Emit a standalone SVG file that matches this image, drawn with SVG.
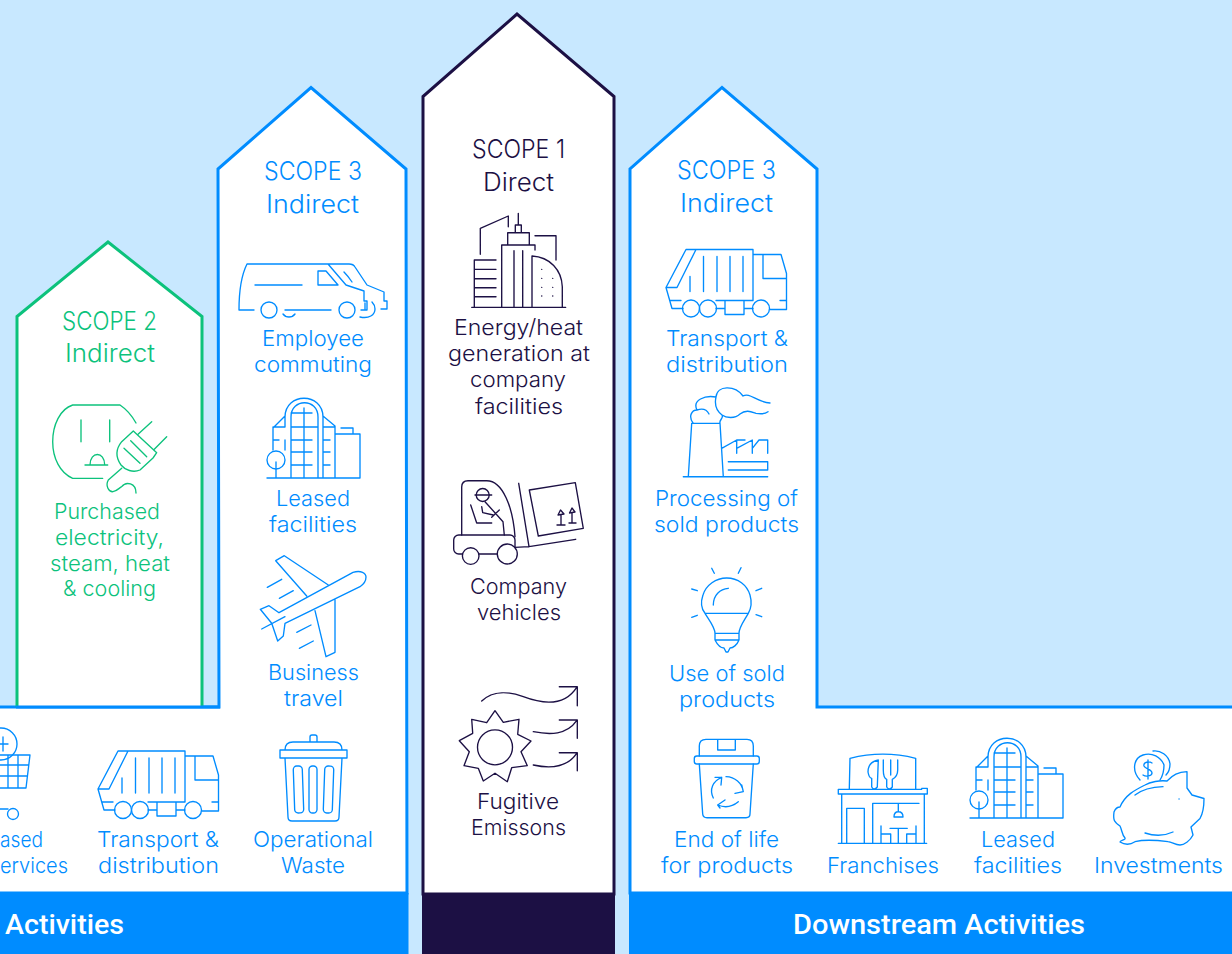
<svg xmlns="http://www.w3.org/2000/svg" width="1232" height="954" viewBox="0 0 1232 954">
<style>
.t{font-family:"Inter","Liberation Sans",sans-serif;font-size:22px;font-weight:300;text-anchor:middle}
.h{font-size:25px}
.bar{font-family:"Roboto","Liberation Sans",sans-serif;font-size:28px;font-weight:500;fill:#fff}
.blue{fill:#008cff}.green{fill:#0cc27c}.navy{fill:#1c1044}
.i{fill:none;stroke-width:1.35;stroke-linecap:round;stroke-linejoin:round}
.ib{stroke:#008cff}.ig{stroke:#0cc27c}.in{stroke:#1c1044}
</style>
<defs>
<g id="truck">
<path d="M98,789L118,751H185V802M98,789H109L128,751M98,789L104,810H115M102,802H113M122,778V793M135.500,758V793M149,758V793M162,758V793M175,758V793M157,802H176V816H157ZM148,810H157M176,810H185M148,802H157M176,802H185M185,756H213L218.500,775V811H202M195,756V780H218M212,802H218"/>
<circle cx="123" cy="810" r="8.500"/><circle cx="140" cy="810" r="8.500"/><circle cx="193" cy="810" r="8.500"/>
</g>
<g id="building">
<path d="M267,478H360M285,427V417C285,392 323,392 323,417V478M291,478V417C291,398 318,398 318,417V478M304,408V478M291,413H312M291,427H318M291,440H312M291,452H312M291,465H312M273,428L285,416M273,427V450M273,427H285M273,440H279M285,440V450M323,416L335,426V478M323,427H335M323,440H330M323,452H330M323,465H330M336,434H360V478M341,428H353V434M276,462V478"/>
<circle cx="276" cy="460" r="9"/>
</g>
</defs>
<rect width="1232" height="954" fill="#c8e8ff"/>
<g id="scope3-upstream">
<path d="M-3,707H219L218,169L311,87.500L406,169L407,893H-3Z" fill="#fff" stroke="#008cff" stroke-width="3"/>
<rect x="0" y="893" width="408.500" height="61" fill="#008cff"/>
<text class="bar" x="5" y="934" textLength="119" lengthAdjust="spacingAndGlyphs">Activities</text>
<text class="t h blue" x="313" y="180" textLength="98" lengthAdjust="spacingAndGlyphs">SCOPE 3</text>
<text class="t h blue" x="312.500" y="213" textLength="93" lengthAdjust="spacingAndGlyphs">Indirect</text>
</g>
<g id="scope2">
<path d="M17,707V316.500L108,242L202,316.500V707" fill="#fff" stroke="#0cc27c" stroke-width="3"/>
<text class="t h green" x="109.500" y="330" textLength="95" lengthAdjust="spacingAndGlyphs">SCOPE 2</text>
<text class="t h green" x="110" y="362" textLength="90" lengthAdjust="spacingAndGlyphs">Indirect</text>
</g>
<path d="M16,707H220" fill="none" stroke="#008cff" stroke-width="3"/>
<g id="purchased-electricity">
<g class="i ig">
<path d="M136,423C131,414 126,409 120,405H72.700C60,409 52.700,425 52.700,441.700C52.700,458 60,473 72.700,478.300H102.700M81,420V441.700M109.700,420V441.700M90,465C90,451 104.700,451 104.700,465M85,465H107.700"/>
<path d="M133.300,431L156.700,452.700L153,458L140,470C133,473 125,470 121,465C116,458 115,450 121.700,441.700ZM138.300,434L151.700,421.700M154.300,449.300L166.700,436.700M130.700,440.700L146.700,456.700M124,448.300L140,463.300M121.700,468.300L108.300,480C105,486 109,492 113,491.700C117,491 119,488 121.700,486.700C126,481 136,483 136,493"/>
</g>
<text class="t green" x="107" y="519" textLength="106" lengthAdjust="spacingAndGlyphs">Purchased</text>
<text class="t green" x="109.500" y="545" textLength="109" lengthAdjust="spacingAndGlyphs">electricity,</text>
<text class="t green" x="110" y="571" textLength="120" lengthAdjust="spacingAndGlyphs">steam, heat</text>
<text class="t green" x="109.500" y="596" textLength="93" lengthAdjust="spacingAndGlyphs">&amp; cooling</text>
</g>
<g id="employee-commuting">
<g class="i ib">
<path d="M254,310H239C239,290 241,276 247,264H328L346,285L364,291V301H367V310H361M285,310H331M328,264H349C352,264 354,265 355,267L367,285L384,292V301H387V309H381M318,271H326L338,285H318ZM255,285H302M344,272C347,275 350,279 352,282M283,314C286,318 292,318 295,314M360,317C369,319 375,315 375,309C375,306 374,304 372,302M365,303V309"/>
<circle cx="269" cy="310" r="8"/><circle cx="347" cy="310" r="8"/>
</g>
<text class="t blue" x="313" y="346" textLength="102" lengthAdjust="spacingAndGlyphs">Employee</text>
<text class="t blue" x="313" y="372" textLength="118" lengthAdjust="spacingAndGlyphs">commuting</text>
</g>
<g id="leased-facilities-up">
<use href="#building" class="i ib"/>
<text class="t blue" x="313" y="506" textLength="74" lengthAdjust="spacingAndGlyphs">Leased</text>
<text class="t blue" x="313" y="532" textLength="88" lengthAdjust="spacingAndGlyphs">facilities</text>
</g>
<g id="business-travel">
<path class="i ib" d="M260.300,609.300L269,605.700L279,612.700L353,572.300C361,570 366,573 366,577C366,581 364,584 360,586.700L285,623.300L283.300,636L277.700,641L271.700,623.300ZM306.700,596L275.700,560.700L284.300,555.700L328.300,585M315,610.700L326,656.700L335,652.300V600M261.700,629L285,616.700M267.300,587.300L281.700,579.300M279.300,598.300L293.300,590.700M296.700,632.300L311,625M299.300,648.300L313.300,641"/>
<text class="t blue" x="313.500" y="680" textLength="91" lengthAdjust="spacingAndGlyphs">Business</text>
<text class="t blue" x="313.500" y="706" textLength="59" lengthAdjust="spacingAndGlyphs">travel</text>
</g>
<g id="operational-waste">
<g class="i ib">
<path d="M310,742V737Q310,735 312,735H315Q317,735 317,737V742M285,750Q285,742 293,742H334Q342,742 342,750M280,750H347V758H280ZM285,758L288,817Q288,821 292,821H335Q339,821 339,817L342,758"/>
<rect x="294" y="766" width="9" height="47" rx="3.500" transform="rotate(-2 298 790)"/>
<rect x="309" y="766" width="8" height="47" rx="3.500"/>
<rect x="324" y="766" width="9" height="47" rx="3.500" transform="rotate(2 328 790)"/>
</g>
<text class="t blue" x="313" y="847" textLength="120" lengthAdjust="spacingAndGlyphs">Operational</text>
<text class="t blue" x="313" y="873" textLength="64" lengthAdjust="spacingAndGlyphs">Waste</text>
</g>
<g id="transport-up">
<use href="#truck" class="i ib"/>
<text class="t blue" x="158" y="847" textLength="122" lengthAdjust="spacingAndGlyphs">Transport &amp;</text>
<text class="t blue" x="158.500" y="873" textLength="121" lengthAdjust="spacingAndGlyphs">distribution</text>
</g>
<g id="purchased-services">
<g class="i ib">
<circle cx="1" cy="744" r="16"/>
<path d="M-2,744H8M3,737V751M0,755H30L26,788H0M8,755V788M18,755V788M0,765H28M0,776H27M0,809H8"/>
<circle cx="13" cy="814" r="5.500"/>
</g>
<text class="t blue" x="21.500" y="847" textLength="43" lengthAdjust="spacingAndGlyphs">ased</text>
<text class="t blue" x="34" y="873" textLength="68" lengthAdjust="spacingAndGlyphs">ervices</text>
</g>
<g id="scope1">
<path d="M423,894V96.500L517,14L614,96.500V894Z" fill="#fff" stroke="#1c1044" stroke-width="3"/>
<rect x="422" y="894" width="193" height="60" fill="#1c1044"/>
<text class="t h navy" x="518.500" y="158" textLength="93" lengthAdjust="spacingAndGlyphs">SCOPE 1</text>
<text class="t h navy" x="518.500" y="191" textLength="71" lengthAdjust="spacingAndGlyphs">Direct</text>
</g>
<g id="energy-generation">
<path class="i in" d="M471.700,307.300H565.700M474.300,307.300V260H496M474.300,269.300H496M474.300,278.700H496M474.300,287.700H496M474.300,296.700H496M480.300,254.300V228.300L508.300,216V226.700M501.700,307.300V245H535V250M514,250.700V307.300M522.700,250.700V307.300M507.700,245V232.700H529.300V245M515.300,232.700V225H521.300V232.700M518.300,225V213.300M535,235.700H556V260M532,307.300V256C550,257 561.700,270 562.300,286.700V307.300M541.700,269.300h.1M541.700,278.300h.1M552.700,278.300h.1M541.700,287.300h.1M552.700,287.300h.1M541.700,296h.1M552.700,296h.1"/>
<text class="t navy" x="518.500" y="335" textLength="129" lengthAdjust="spacingAndGlyphs">Energy/heat</text>
<text class="t navy" x="519" y="361" textLength="142" lengthAdjust="spacingAndGlyphs">generation at</text>
<text class="t navy" x="518" y="387" textLength="96" lengthAdjust="spacingAndGlyphs">company</text>
<text class="t navy" x="519" y="413.500" textLength="88" lengthAdjust="spacingAndGlyphs">facilities</text>
</g>
<g id="company-vehicles">
<g class="i in">
<path d="M461.700,535V487Q461.700,480.700 468,480.700H486.700C503,480.700 513,508 515,536.700"/>
<rect x="453.700" y="535" width="61.300" height="19" rx="5"/>
<circle cx="470.700" cy="556" r="8.300" fill="#fff"/><circle cx="507.300" cy="554" r="10" fill="#fff"/>
<circle cx="482.700" cy="495" r="6.500"/>
<path d="M475,495H491.700M470.700,505L476.700,523H491.700M481.700,506.700L482.700,512.700L493.300,515M485,501.700L503,521.700L504.300,535M491.700,517.300L499.300,510M518.700,483.300L529,546.700L575.700,539.300M515,547.300L529,546.700M529.300,490L575.300,482.700L583.300,528.300L538.300,536ZM561,525V515M558,515L560.500,510L564,514ZM557,525H565M572,523V513M569.500,513L572,508L575,512ZM569,523H576"/>
</g>
<text class="t navy" x="518.500" y="594" textLength="97" lengthAdjust="spacingAndGlyphs">Company</text>
<text class="t navy" x="519" y="620" textLength="84" lengthAdjust="spacingAndGlyphs">vehicles</text>
</g>
<g id="fugitive-emissions">
<g class="i in">
<polygon points="495,710.700 503.300,722.300 519,719.300 517.700,734.300 531,741 521,751.700 527.300,765.700 511.700,767.700 507.300,781.700 495,773.300 483.300,781 478.300,768.300 464,765.700 469.300,751.700 459.300,740.700 472.700,733.300 471.700,719.300 486.700,722.700"/>
<circle cx="495" cy="747.300" r="17.500"/>
<path d="M481.700,701C493.300,690 510,691.700 523.300,696.700C540,703 563.300,708.300 576.700,687.300M559.300,686.700H577.300V705.700M533.300,731.700C550,735 566.700,735 576.700,720.700M559.300,720H577.300V738.300M533.300,765C550,768.700 566.700,768 576.700,753.300M559.300,752.700H577.300V770.700"/>
</g>
<text class="t navy" x="518" y="809" textLength="82" lengthAdjust="spacingAndGlyphs">Fugitive</text>
<text class="t navy" x="518.500" y="835" textLength="95" lengthAdjust="spacingAndGlyphs">Emissons</text>
</g>
<g id="scope3-downstream">
<path d="M630,893V169L722,87.500L817,169V707H1235V893Z" fill="#fff" stroke="#008cff" stroke-width="3"/>
<rect x="629" y="893" width="603" height="61" fill="#008cff"/>
<text class="bar" x="793" y="934" textLength="292" lengthAdjust="spacingAndGlyphs">Downstream Activities</text>
<text class="t h blue" x="726.500" y="179" textLength="99" lengthAdjust="spacingAndGlyphs">SCOPE 3</text>
<text class="t h blue" x="726.500" y="212" textLength="93" lengthAdjust="spacingAndGlyphs">Indirect</text>
</g>
<g id="transport-down">
<use href="#truck" class="i ib" transform="translate(568 -501.500)"/>
<text class="t blue" x="727" y="346" textLength="122" lengthAdjust="spacingAndGlyphs">Transport &amp;</text>
<text class="t blue" x="727" y="372" textLength="122" lengthAdjust="spacingAndGlyphs">distribution</text>
</g>
<g id="processing">
<path class="i ib" d="M683.300,476.700H767.700M688.300,476.700L691.700,423.300H720L723.300,476.700M721.700,448.300L736.700,440V453.300M736.700,448.300L752.300,440V453.300M752.300,448.300L759,440H767.700V453.300M736.700,440H745M728.300,461.700H767.700V470H728.300M693,423C688,416 692,410 697,410C692,400 705,395 716,397C717,385 735,385 743,396C750,392 756,402 770,403M697,410C703,408 707,410 709,414M716,397C714,406 718,412 722,415C726,418 735,419 740,414C746,409 752,412 756,413.300C760,414 765,414 768,411.700M722,415C724,418 719,420 720,423"/>
<text class="t blue" x="726.500" y="506" textLength="143" lengthAdjust="spacingAndGlyphs">Processing of</text>
<text class="t blue" x="726.500" y="532" textLength="145" lengthAdjust="spacingAndGlyphs">sold products</text>
</g>
<g id="use-of-products">
<path class="i ib" d="M705,613.300C699,606 702,598 703,595C706,585 716,578 726.700,578C738,578 747,585 750,595C752,602 752,607 748.300,613.300C744,621 739,627 739,633.300H715C715,627 709,620 705,613.300ZM705,613.300H748.300M715,633.300V640H739V633.300M715,640C718,646 722,648 724,648L726,652H728L730,648C733,648 737,645 739,640M713.300,605C713.300,595 720,589 728.300,588.300M711.700,568.300L714.300,573.300M741,567.700L738.300,573.300M691.700,589L697.300,590.700M761.700,588.300L756,590.700M691.700,617.300L697.300,615.300M761.700,616.700L756,614.700"/>
<text class="t blue" x="727" y="681" textLength="116" lengthAdjust="spacingAndGlyphs">Use of sold</text>
<text class="t blue" x="727" y="707" textLength="96" lengthAdjust="spacingAndGlyphs">products</text>
</g>
<g id="end-of-life">
<g class="i ib">
<path d="M699.300,756V746Q699.300,739.300 706,739.300H747Q753.300,739.300 753.300,746V756M717.700,739.300V750H735.300V739.300M699.300,764L702.700,814Q703,817.700 707,817.700H746Q750,817.700 750,814L753.300,764"/>
<rect x="694.300" y="756" width="65" height="8" rx="2.500"/>
<path d="M713.300,798C709,789 713,781 721.700,777.300M715,777.300H721.700L721,785M726,776.700C735,777 742,783 743.300,791.700M735,793.300L743.300,791.700L741.700,785M738.300,801.700C732,807 725,808 717.700,805M725,800L717.700,805L720,808"/>
</g>
<text class="t blue" x="726.500" y="847" textLength="105" lengthAdjust="spacingAndGlyphs">End of life</text>
<text class="t blue" x="727" y="873" textLength="132" lengthAdjust="spacingAndGlyphs">for products</text>
</g>
<g id="franchises">
<path class="i ib" d="M838.300,843.300H926.700M841.700,794V843.300M924.300,794V843.300M838.300,789.300H921.700M838.300,789.300V794H927.300V788.300H921.700M849.300,789.300L850,758.300Q883,750 915.700,758.300V789.300M846.700,843.300V808.300H864.300V843.300M872.700,843.300V803.300H919M898.300,803.300V811.700M894,817Q894,811.700 898.300,811.700Q903,811.700 903,817ZM890,828.300H907.300M898.300,828.300V843.300M881,826V843.300M881,834H890.700V843.300M916,826V843.300M916,834H906.700V843.300M878.300,760Q868,762 868,772Q869,778 871.700,778.300V787Q874,791 877.300,787ZM883.300,760V770Q883.300,778 886.700,779.300V787Q889.300,791 892.300,787V779.300Q897.700,776.700 897.700,770V760M890.700,760V775"/>
<text class="t blue" x="883" y="873" textLength="112" lengthAdjust="spacingAndGlyphs">Franchises</text>
</g>
<g id="leased-facilities-down">
<use href="#building" class="i ib" transform="translate(703 340)"/>
<text class="t blue" x="1018" y="847" textLength="74" lengthAdjust="spacingAndGlyphs">Leased</text>
<text class="t blue" x="1018" y="873" textLength="88" lengthAdjust="spacingAndGlyphs">facilities</text>
</g>
<g id="investments">
<g class="i ib">
<path d="M1167,781C1173,775 1178,772 1187,771.700L1187,788L1192,795L1204,798.500C1204,810 1202,815 1200,818.500L1191,827L1193,835C1190,841 1184,845 1180,845C1175,845 1172,842 1168,841.700C1155,840 1142,840 1135,841.700C1130,845 1125,845 1120,842C1120,840 1126,840 1125,838C1122,835 1122,830 1120,826C1114,822 1113,820 1114,812C1116,807 1120,807 1120,807C1125,795 1135,790 1145,785C1150,782 1160,780 1167,781ZM1135,795C1143,789 1155,787 1163,786.700M1145,833Q1160,838 1173,832M1179,799h.1"/>
<path d="M1140,780C1131,770 1134,758 1143,755C1152,752 1161,757 1164,765C1164,772 1162,777 1160,780M1153,751C1160,750 1169,755 1170,764C1170,770 1168,773 1166,775"/>
<path d="M1152,763C1149,761 1143,762 1144,766C1145,769 1152,769 1152,773C1152,776 1146,777 1143,775M1148,760V779"/>
</g>
<text class="t blue" x="1158.500" y="873" textLength="129" lengthAdjust="spacingAndGlyphs">Investments</text>
</g>
<g id="connectors"/>
</svg>
